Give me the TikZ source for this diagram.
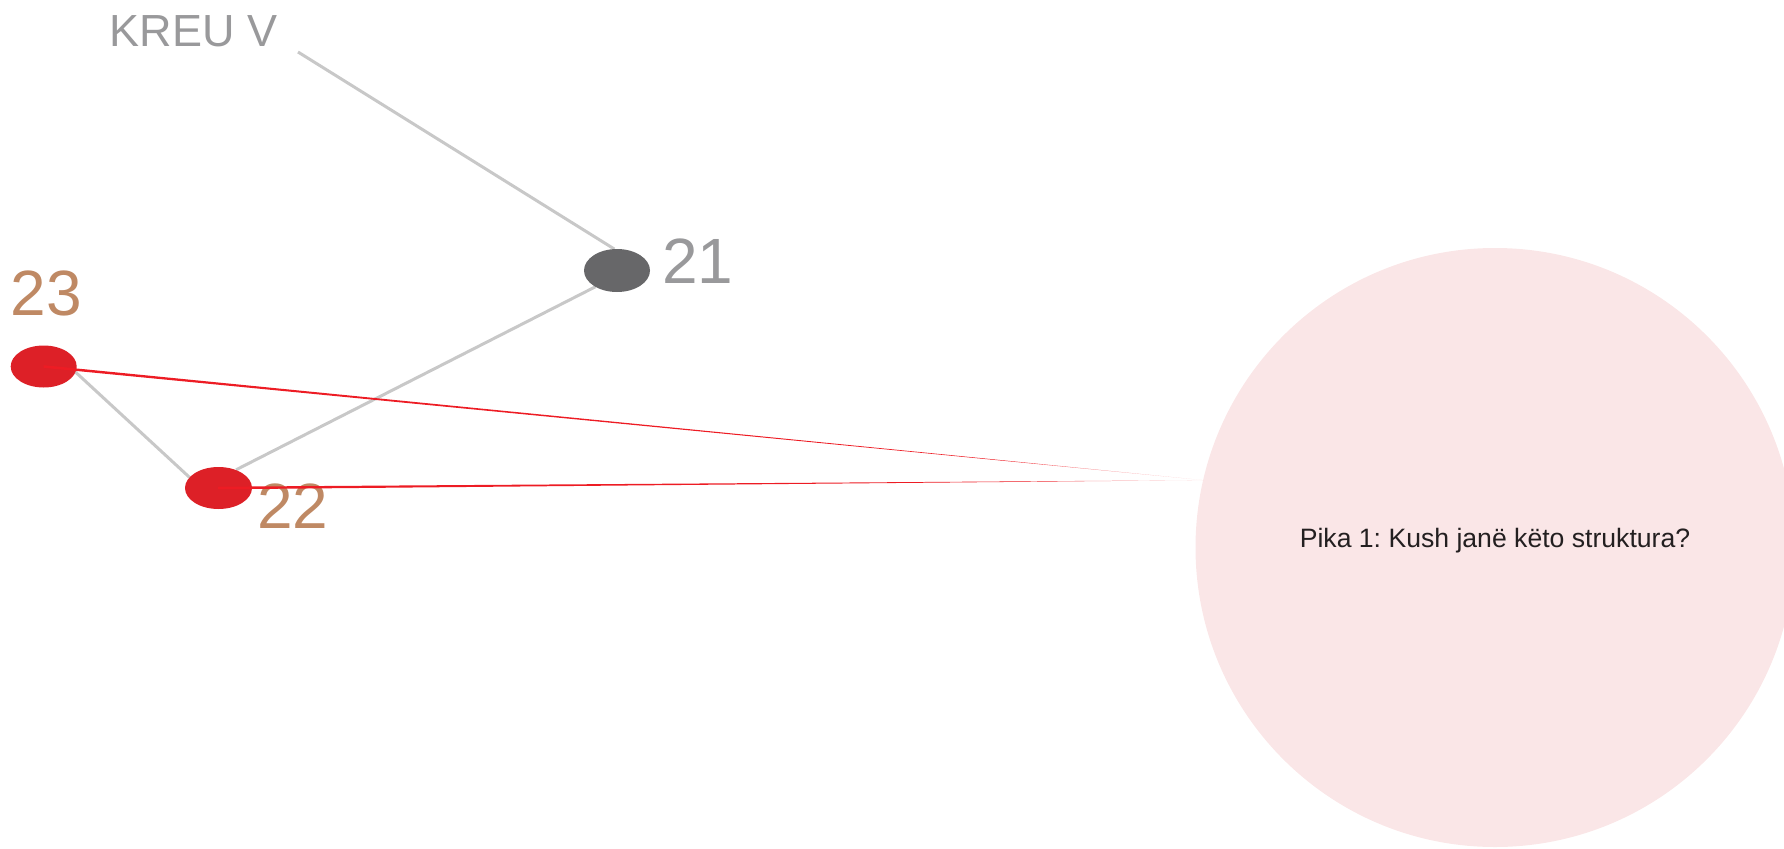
\documentclass[tikz,border=0pt]{standalone}
\usepackage{fontspec}
\setmainfont{Liberation Sans}
\usetikzlibrary{shapes.geometric}

\definecolor{kreugray}{RGB}{153,153,155}
\definecolor{edgegray}{RGB}{200,200,200}
\definecolor{darkdot}{RGB}{103,103,105}
\definecolor{reddot}{RGB}{221,32,39}
\definecolor{linered}{RGB}{237,28,36}
\definecolor{numtan}{RGB}{191,137,100}
\definecolor{bubble}{RGB}{250,230,231}
\definecolor{qtext}{RGB}{35,31,32}

% red pointer lines fade out near the bubble
\pgfdeclarehorizontalshading{redfade}{100bp}{color(0bp)=(linered); color(66bp)=(linered); color(75bp)=(linered!12); color(100bp)=(linered!12)}

\begin{document}
\frenchspacing
\begin{tikzpicture}[x=1pt,y=-1pt,
    dot/.style={ellipse,minimum width=66,minimum height=43,inner sep=0pt,outer sep=0pt},
    num/.style={anchor=base west,inner sep=0pt,font=\fontsize{64}{70}\selectfont},
    edge/.style={edgegray,line width=3pt},
    redlink/.style={shading=redfade}]

    \useasboundingbox (0,0) rectangle (1784,848);

    % the question bubble
    \node[circle,fill=bubble,minimum size=599,inner sep=0pt,outer sep=0pt] (q) at (1495,547.5) {};
    \node[anchor=base,inner sep=0pt,text=qtext,font=\fontsize{26.6}{30}\selectfont] (qlabel) at (1495,547)
        {Pika 1: Kush janë këto struktura?};

    % chapter title
    \node[anchor=base west,inner sep=0pt,text=kreugray,font=\fontsize{45}{50}\selectfont] (kreu) at (109.5,47) {KREU V};
    \coordinate (kreutail) at (298,52);

    % the points
    \node[dot] (n21) at (617,270.5) {};
    \node[dot] (n22) at (218.5,488) {};
    \node[dot] (n23) at (43.7,366.5) {};

    % grey connections
    \draw[edge] (kreutail) -- (n21.97);
    \draw[edge] (n21.217) -- (n22.46);
    \draw[edge] (n23.-10) -- (n22.160);

    \fill[darkdot] (n21.center) ellipse (33 and 21.5);
    \fill[reddot] (n22.center) ellipse (33.5 and 21);
    \fill[reddot] (n23.center) ellipse (33 and 21);

    % numbers
    \node[num,text=kreugray] (l21) at (662,283) {21};
    \node[num,text=numtan] (l22) at (257,528) {22};
    \node[num,text=numtan] (l23) at (10.7,315) {23};

    % red pointers to the bubble
    \shade[redlink] ([yshift=1.3pt]n23.center) -- (q.167) -- ([yshift=-1.3pt]n23.center) -- cycle;
    \shade[redlink] ([yshift=1.3pt]n22.center) -- (q.167) -- ([yshift=-1.3pt]n22.center) -- cycle;

\end{tikzpicture}
\end{document}
